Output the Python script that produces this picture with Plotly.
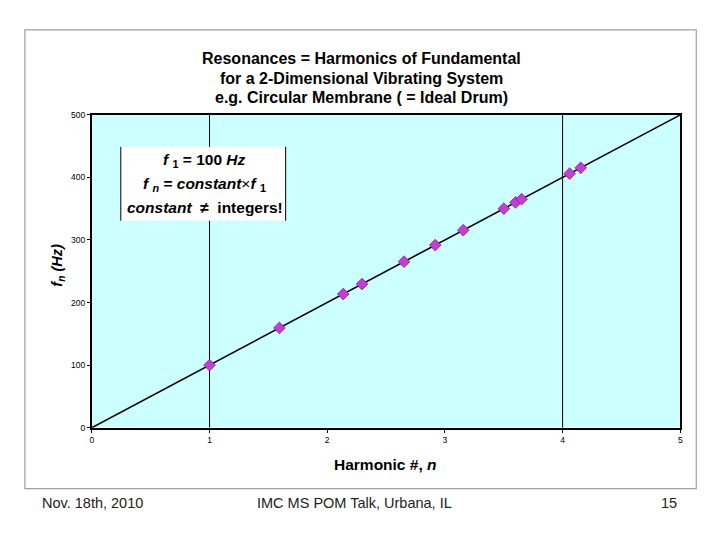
import plotly.graph_objects as go

# Data
harmonic_n = [1.000, 1.594, 2.136, 2.296, 2.653, 2.918, 3.156, 3.501, 3.600, 3.652, 4.060, 4.154]
freq_hz = [100, 159.4, 213.6, 229.6, 265.3, 291.8, 315.6, 350.1, 360.0, 365.2, 406.0, 415.4]
fit_x = [0, 5]
fit_y = [0, 500]
vgrid_x = [1, 4]
x_ticks = [0, 1, 2, 3, 4, 5]
y_ticks = [0, 100, 200, 300, 400, 500]

W, H = 720, 540
X_OFF = 9.09
X_SCALE = 0.994
Y_OFF = 13.1
Y_SCALE = 0.982

def px(x):
    return ((x - X_OFF) / X_SCALE) / W

def py(y):
    return 1 - ((y - Y_OFF) / Y_SCALE) / H

fig = go.Figure()
fig.add_trace(go.Scatter(x=fit_x, y=fit_y, mode="lines",
                         line=dict(color="black", width=1.6), hoverinfo="skip",
                         showlegend=False))
fig.add_trace(go.Scatter(x=harmonic_n, y=freq_hz, mode="markers",
                         marker=dict(symbol="diamond", size=9, color="#C63CD6",
                                     line=dict(color="#8A1E9A", width=0.8)),
                         showlegend=False))

shapes = []
shapes.append(dict(type="rect", xref="paper", yref="paper",
                   x0=px(24), x1=px(696), y0=py(489), y1=py(30),
                   line=dict(color="#A0A0A0", width=1.2), layer="below"))
for gx in vgrid_x:
    shapes.append(dict(type="line", xref="x", yref="y", x0=gx, x1=gx, y0=0, y1=500,
                       line=dict(color="black", width=1), layer="below"))
shapes.append(dict(type="rect", xref="paper", yref="paper",
                   x0=px(120), x1=px(285), y0=py(221), y1=py(147),
                   fillcolor="white", line=dict(width=0), layer="above"))
for bx in (120, 285):
    shapes.append(dict(type="line", xref="paper", yref="paper",
                       x0=px(bx), x1=px(bx), y0=py(221), y1=py(147),
                       line=dict(color="black", width=1), layer="above"))

annotations = []
title_lines = ["Resonances = Harmonics of Fundamental",
               "for a 2-Dimensional Vibrating System",
               "e.g. Circular Membrane ( = Ideal Drum)"]
for i, t in enumerate(title_lines):
    annotations.append(dict(text="<b>%s</b>" % t, xref="paper", yref="paper",
                            x=px(361), y=py(59 + i * 19.5), showarrow=False,
                            font=dict(family="Liberation Sans", size=16, color="black"),
                            xanchor="center", yanchor="middle"))
box_lines = ["<b><i>f</i> <sub>1</sub> = 100 <i>Hz</i></b>",
             "<b><i>f <sub>n</sub></i> = <i>constant</i></b>×<b><i>f </i><sub>1</sub></b>",
             "<b><i>constant</i>  ≠  integers!</b>"]
for i, t in enumerate(box_lines):
    annotations.append(dict(text=t, xref="paper", yref="paper",
                            x=px(204), y=py(161 + i * 23.5), showarrow=False,
                            font=dict(family="Liberation Sans", size=15.5, color="black"),
                            xanchor="center", yanchor="middle"))
annotations.append(dict(text="<b>Harmonic #, <i>n</i></b>", xref="paper", yref="paper",
                        x=px(385), y=py(465), showarrow=False,
                        font=dict(family="Liberation Sans", size=15.5, color="black"),
                        xanchor="center", yanchor="middle"))
annotations.append(dict(text="<b><i>f<sub>n</sub></i> <i>(Hz)</i></b>", xref="paper", yref="paper",
                        x=px(57), y=py(265), showarrow=False, textangle=-90,
                        font=dict(family="Liberation Sans", size=14.5, color="black"),
                        xanchor="center", yanchor="middle"))
footer = [("Nov. 18th, 2010", 92), ("IMC MS POM Talk, Urbana, IL", 354), ("15", 669)]
for t, x in footer:
    annotations.append(dict(text=t, xref="paper", yref="paper", x=px(x), y=py(503),
                            showarrow=False, xanchor="center", yanchor="middle",
                            font=dict(family="Liberation Sans", size=14.5, color="#222222")))

fig.update_layout(
    width=W, height=H, margin=dict(l=0, r=0, t=0, b=0),
    paper_bgcolor="white", plot_bgcolor="#CCFFFF",
    shapes=shapes, annotations=annotations,
    xaxis=dict(domain=[px(91), px(680)], range=[0, 5], tickvals=x_ticks,
               showgrid=False, zeroline=False, showline=True, linecolor="black",
               linewidth=2, mirror=True, ticks="outside", ticklen=3, tickcolor="black",
               tickfont=dict(family="Liberation Sans", size=8.5, color="black")),
    yaxis=dict(domain=[py(428), py(115)], range=[0, 500], tickvals=y_ticks,
               showgrid=False, zeroline=False, showline=True, linecolor="black",
               linewidth=2, mirror=True, ticks="outside", ticklen=3, tickcolor="black",
               tickfont=dict(family="Liberation Sans", size=8.5, color="black")),
)
fig.write_html("out.html")
